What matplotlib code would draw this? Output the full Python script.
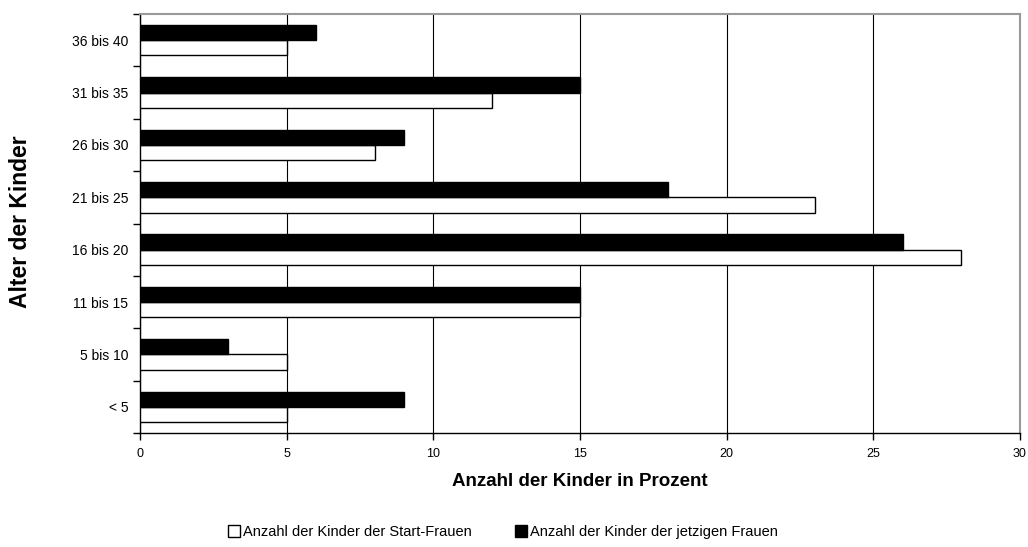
import numpy as np
import matplotlib.pyplot as plt
from matplotlib.patches import Patch

plt.rcParams['font.family'] = ['Liberation Sans', 'DejaVu Sans']

categories = ['< 5', '5 bis 10', '11 bis 15', '16 bis 20',
              '21 bis 25', '26 bis 30', '31 bis 35', '36 bis 40']
start_frauen = [5, 5, 15, 28, 23, 8, 12, 5]
jetzige_frauen = [9, 3, 15, 26, 18, 9, 15, 6]
xticks = [0, 5, 10, 15, 20, 25, 30]

fig = plt.figure(figsize=(10.28, 5.47), dpi=100)
ax = fig.add_axes([140/1028, 1 - 433/547, 880/1028, 419/547])

y = np.arange(len(categories))
h = 0.29
ax.barh(y - h/2, start_frauen, height=h, color='white', edgecolor='black', linewidth=1, zorder=3)
ax.barh(y + h/2, jetzige_frauen, height=h, color='black', edgecolor='black', linewidth=1, zorder=3)

ax.set_xlim(0, 30)
ax.set_ylim(-0.5, len(categories) - 0.5)
ax.set_xticks(xticks)
ax.set_xticklabels([str(v) for v in xticks], fontsize=9)
ax.set_yticks(y)
ax.set_yticklabels(categories, fontsize=10)
ax.set_yticks(np.arange(-0.5, len(categories)), minor=True)
ax.tick_params(axis='y', which='major', length=0, pad=8.5)
ax.tick_params(axis='y', which='minor', length=5, direction='out', width=1)
ax.tick_params(axis='x', length=5, direction='out', width=1, pad=6)

ax.grid(axis='x', color='black', linewidth=0.8, zorder=0)
for s in ['top', 'right']:
    ax.spines[s].set_color('#999999')
    ax.spines[s].set_linewidth(1.5)
for s in ['left', 'bottom']:
    ax.spines[s].set_color('black')
    ax.spines[s].set_linewidth(1)

ax.set_xlabel('Anzahl der Kinder in Prozent', fontsize=13.5, fontweight='bold', labelpad=9)
fig.text(21/1028, 1 - 222/547, 'Alter der Kinder', rotation=90, fontsize=16.5,
         fontweight='bold', ha='center', va='center')

handles = [Patch(facecolor='white', edgecolor='black', label='Anzahl der Kinder der Start-Frauen'),
           Patch(facecolor='black', edgecolor='black', label='Anzahl der Kinder der jetzigen Frauen')]
fig.legend(handles=handles, loc='center', bbox_to_anchor=(503/1028, 1 - 532/547), ncol=2,
           frameon=False, fontsize=10.5, handlelength=0.8, handleheight=0.8,
           handletextpad=0.2, columnspacing=3)

fig.savefig('out.png', dpi=100)
